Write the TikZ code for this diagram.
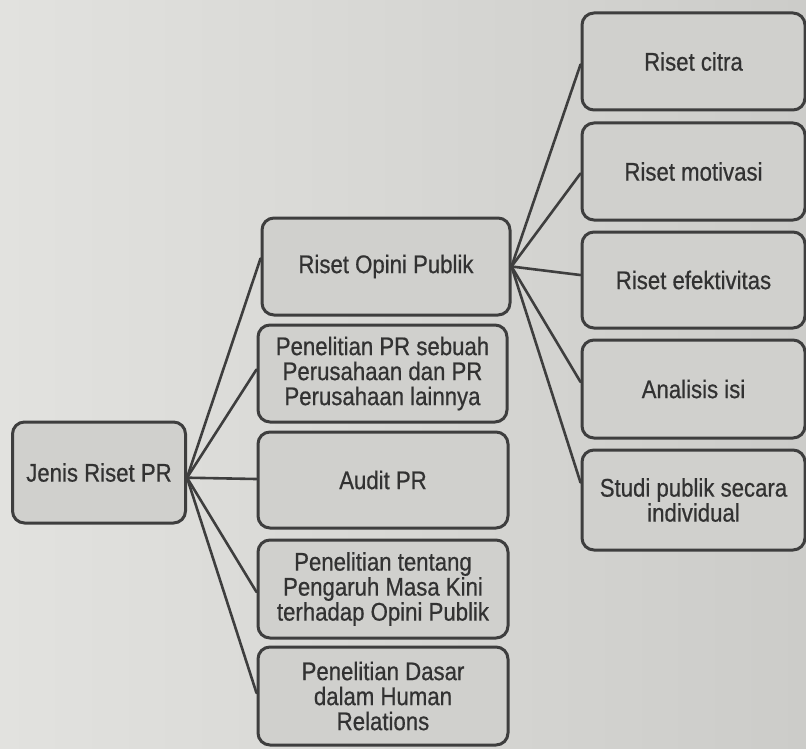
\documentclass[tikz,border=0pt]{standalone}
\usepackage{fontspec}
\setmainfont[FakeStretch=0.87,FakeBold=0.6]{Liberation Sans}
\usetikzlibrary{calc}
\definecolor{bgcol}{RGB}{226,226,223}
\definecolor{bgdark}{RGB}{204,204,201}
\definecolor{boxfill}{RGB}{208,208,205}
\definecolor{edgecol}{RGB}{62,62,62}
\definecolor{txtcol}{RGB}{50,50,50}
\tikzset{
  rbox/.style={draw=edgecol, fill=boxfill, line width=3pt, rounded corners=12pt,
    text=txtcol, align=center, inner sep=0pt,
    font=\fontsize{25.5}{25}\selectfont},
  link/.style={draw=edgecol, line width=2.6pt, line cap=round}
}
\begin{document}
\begin{tikzpicture}[x=1pt,y=-1pt]
\useasboundingbox (0,0) rectangle (806,749);
\shade[left color=bgcol, right color=bgdark] (0,0) rectangle (806,749);
% nodes
\node[rbox, minimum width=173pt, minimum height=101pt] (J) at (99,472.5) {Jenis Riset PR};
\node[rbox, minimum width=248pt, minimum height=97pt] (ROP) at (386,266.5) {Riset Opini Publik};
\node[rbox, minimum width=249pt, minimum height=97pt] (PPR) at (382.5,373.5) {Penelitian PR sebuah\\Perusahaan dan PR\\Perusahaan lainnya};
\node[rbox, minimum width=250pt, minimum height=96pt] (AUD) at (383,480) {Audit PR};
\node[rbox, minimum width=250pt, minimum height=98pt] (PT) at (383,589) {Penelitian tentang\\Pengaruh Masa Kini\\terhadap Opini Publik};
\node[rbox, minimum width=250pt, minimum height=98pt] (PD) at (383,696) {Penelitian Dasar\\dalam Human\\Relations};
\node[rbox, minimum width=223pt, minimum height=97pt] (RC) at (693.5,61.5) {Riset citra};
\node[rbox, minimum width=223pt, minimum height=97pt] (RM) at (693.5,171.5) {Riset motivasi};
\node[rbox, minimum width=223pt, minimum height=96pt] (RE) at (693.5,280) {Riset efektivitas};
\node[rbox, minimum width=223pt, minimum height=98pt] (AI) at (693.5,389) {Analisis isi};
\node[rbox, minimum width=223pt, minimum height=100pt] (SP) at (693.5,500) {Studi publik secara\\individual};
% connectors
\coordinate (Jout) at ($(J.north east)!0.55!(J.south east)$);
\draw[link] (Jout) -- ($(ROP.north west)!0.42!(ROP.south west)$);
\draw[link] (Jout) -- ($(PPR.north west)!0.46!(PPR.south west)$);
\draw[link] (Jout) -- ($(AUD.north west)!0.49!(AUD.south west)$);
\draw[link] (Jout) -- ($(PT.north west)!0.53!(PT.south west)$);
\draw[link] (Jout) -- ($(PD.north west)!0.47!(PD.south west)$);
\coordinate (Rout) at (ROP.east);
\draw[link] (Rout) -- ($(RC.north west)!0.53!(RC.south west)$);
\draw[link] (Rout) -- ($(RM.north west)!0.52!(RM.south west)$);
\draw[link] (Rout) -- ($(RE.north west)!0.45!(RE.south west)$);
\draw[link] (Rout) -- ($(AI.north west)!0.43!(AI.south west)$);
\draw[link] (Rout) -- ($(SP.north west)!0.33!(SP.south west)$);
\end{tikzpicture}
\end{document}
